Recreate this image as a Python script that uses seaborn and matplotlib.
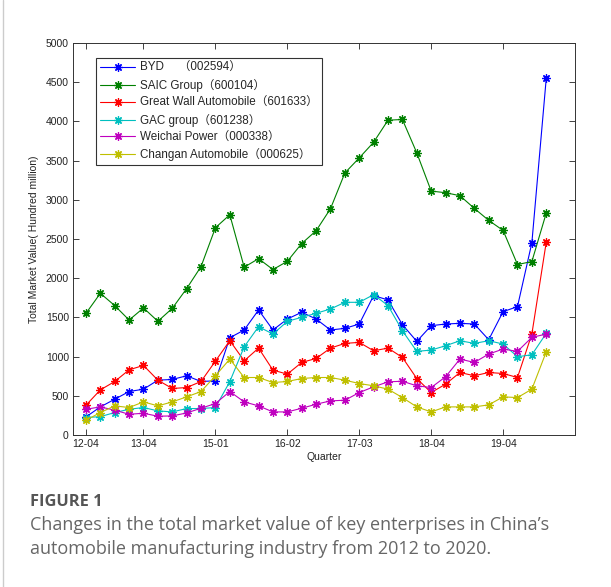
import numpy as np
import pandas as pd
import matplotlib as mpl
import matplotlib.pyplot as plt
from matplotlib.lines import Line2D
import seaborn as sns

# quarters are plotted by index, only some of them get a label
quarter_ticks = [1, 5, 10, 15, 20, 25, 30]
quarter_labels = ["12-04", "13-04", "15-01", "16-02", "17-03", "18-04", "19-04"]

byd = [230, 358, 456, 554, 584, 699, 708, 755, 682, 691, 1240, 1339, 1594, 1339, 1479, 1565, 1479,
       1339, 1360, 1415, 1778, 1722, 1407, 1194, 1394, 1415, 1424, 1415, 1215, 1573, 1637, 2451, 4548]
saic = [1551, 1807, 1650, 1466, 1620, 1450, 1615, 1867, 2148, 2643, 2809, 2140, 2249, 2110, 2215, 2442, 2605,
        2886, 3342, 3534, 3734, 4015, 4024, 3598, 3111, 3090, 3052, 2890, 2737, 2609, 2174, 2212, 2830]
great_wall = [379, 575, 682, 831, 887, 699, 593, 605, 682, 942, 1203, 946, 1108, 827, 776, 925, 976,
              1108, 1168, 1181, 1074, 1108, 989, 720, 541, 648, 797, 755, 797, 784, 733, 1287, 2459]
gac = [222, 234, 286, 328, 350, 307, 294, 337, 337, 350, 680, 1125, 1381, 1287, 1449, 1501, 1552,
       1607, 1692, 1692, 1790, 1650, 1330, 1066, 1083, 1138, 1202, 1168, 1202, 1160, 998, 1023, 1296]
weichai = [328, 358, 316, 264, 277, 239, 243, 281, 341, 401, 554, 422, 371, 294, 294, 341, 392,
           435, 443, 541, 614, 678, 685, 627, 605, 742, 968, 925, 1032, 1096, 1066, 1245, 1287]
changan = [188, 286, 371, 350, 422, 371, 422, 486, 554, 755, 968, 733, 733, 669, 682, 720, 733,
           733, 699, 656, 627, 584, 477, 358, 294, 358, 358, 358, 384, 486, 477, 584, 1061]

companies = ["BYD\u3000 \uff08002594\uff09", "SAIC Group\uff08600104\uff09",
             "Great Wall Automobile\uff08601633\uff09", "GAC group\uff08601238\uff09",
             "Weichai Power\uff08000338\uff09", "Changan Automobile\uff08000625\uff09"]
series = [byd, saic, great_wall, gac, weichai, changan]

# old matlab colour order
colors = [(0, 0, 1), (0, 0.5, 0), (1, 0, 0), (0, 0.75, 0.75), (0.75, 0, 0.75), (0.75, 0.75, 0)]

sns.set_theme(style="white")
plt.rcParams['font.family'] = ['Liberation Sans', 'Noto Sans CJK SC', 'DejaVu Sans']

fig = plt.figure(figsize=(6.11, 5.87), dpi=100)
ax = fig.add_axes([0.1195, 0.259, 0.8216, 0.6678])

for name, vals, col in zip(companies, series, colors):
    q = np.arange(1, len(vals) + 1)
    sns.lineplot(x=q, y=vals, ax=ax, color=col, linewidth=0.8, marker=(8, 2, 0),
                 markersize=6, markeredgewidth=0.9, markeredgecolor=col, label=name)

ax.set_xlim(0.1, 35)
ax.set_ylim(0, 5000)
ax.set_xticks(quarter_ticks)
ax.set_xticklabels(quarter_labels)
ax.set_yticks(np.arange(0, 5001, 500))
ax.tick_params(direction="in", length=4, width=0.6, labelsize=7.5, colors="#222222",
               top=True, right=True, bottom=True, left=True, pad=3)
for s in ax.spines.values():
    s.set_color("#333333")
    s.set_linewidth(0.7)
ax.set_xlabel("Quarter", fontsize=7.5, labelpad=2, color="#222222")
ax.set_ylabel("Total Market Value( Hundred million)", fontsize=7.5, labelpad=5, color="#222222")

leg = ax.legend(loc="upper left", bbox_to_anchor=(0.046, 0.962), fontsize=8.4, frameon=True,
                fancybox=False, edgecolor="black", handlelength=3.0, labelspacing=0.42,
                borderpad=0.35, handletextpad=0.4, borderaxespad=0)
leg.get_frame().set_linewidth(0.8)

# caption under the chart
fig.text(30 / 611, 1 - 502 / 587, "FIGURE 1", fontsize=11.8, fontweight="bold", color="#555555",
         family="Open Sans", va="center")
fig.text(30 / 611, 1 - 525 / 587, "Changes in the total market value of key enterprises in China\u2019s",
         fontsize=13, color="#666666", family="Open Sans", va="center")
fig.text(30 / 611, 1 - 549 / 587, "automobile manufacturing industry from 2012 to 2020.",
         fontsize=13, color="#666666", family="Open Sans", va="center")

# thin card border on the left
fig.add_artist(Line2D([3 / 611, 3 / 611], [0, 1], transform=fig.transFigure, color="#cccccc", linewidth=1))

fig.savefig("out.png", dpi=100)
